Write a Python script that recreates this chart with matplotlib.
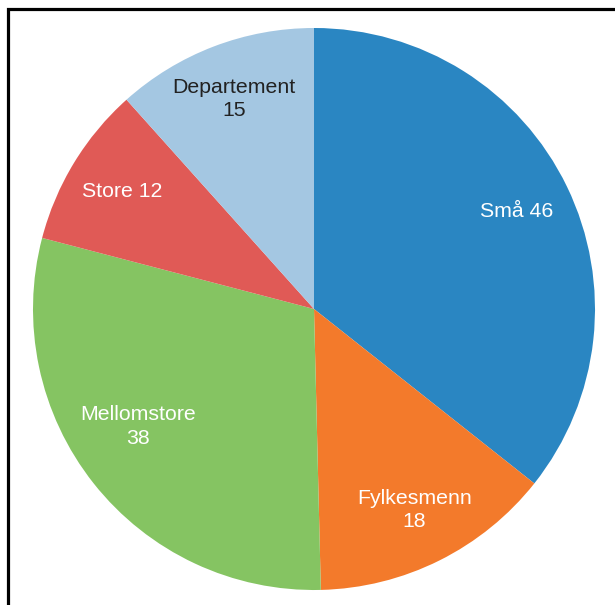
import matplotlib.pyplot as plt

names = ["Små", "Fylkesmenn", "Mellomstore", "Store", "Departement"]
values = [46, 18, 38, 12, 15]
colors = ["#2a86c2", "#f37a2b", "#85c462", "#e05a56", "#a4c7e2"]
text_colors = ["white", "white", "white", "white", "#222222"]
two_line = [False, True, True, False, True]

labels = [f"{n}\n{v}" if wrap else f"{n} {v}" for n, v, wrap in zip(names, values, two_line)]

# small vertical nudges (pixels) for labels that sit off the wedge midline
label_dy = [0, 0, 22, 0, 0]

W, H = 615, 605
fig = plt.figure(figsize=(W / 100, H / 100), dpi=100)
ax = fig.add_axes([0, 0, 1, 1])

wedges, texts = ax.pie(
    values,
    labels=labels,
    colors=colors,
    startangle=90,
    counterclock=False,
    center=(314, H - 309),
    radius=281,
    labeldistance=0.8,
    wedgeprops=dict(linewidth=0),
    textprops=dict(fontsize=15.3, family="Liberation Sans", linespacing=1.3),
)
for t, c, dy in zip(texts, text_colors, label_dy):
    x, y = t.get_position()
    t.set_position((x, y + dy))
    t.set_color(c)
    t.set_horizontalalignment("center")
    t.set_verticalalignment("center")
    t.set_multialignment("center")

# outer frame: only left and top edges fall inside the canvas
ax.plot([7.5, 7.5, W + 10], [-10, H - 9, H - 9], color="black", lw=2.3,
        solid_joinstyle="miter", clip_on=False)

ax.set_xlim(0, W)
ax.set_ylim(0, H)
ax.set_aspect("equal")
ax.axis("off")

fig.savefig("out.png", dpi=100)
